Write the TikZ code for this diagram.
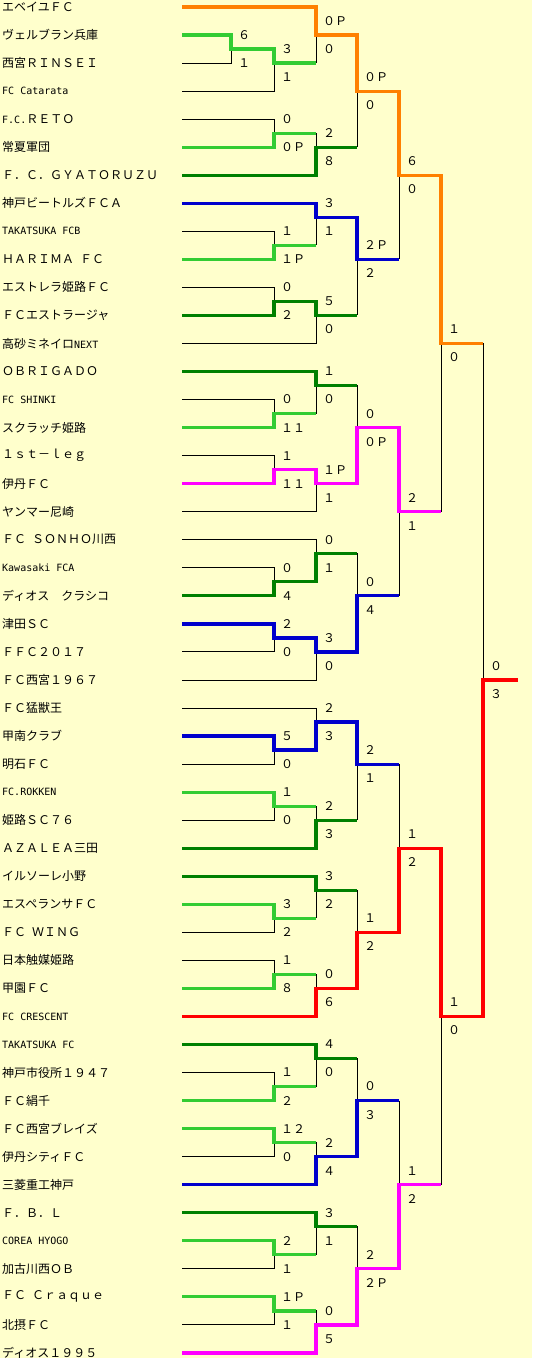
\documentclass[tikz,border=0pt]{standalone}
\usepackage{fontspec}
\setmainfont{Noto Sans CJK JP}
\newfontfamily\hanfont{DejaVu Sans Mono}
\usepackage{xcolor}
\usepackage{tikz}
\definecolor{tbbg}{RGB}{255,255,204}
\definecolor{tborange}{RGB}{255,128,0}
\definecolor{tblime}{RGB}{51,204,51}
\definecolor{tbgreen}{RGB}{0,128,0}
\definecolor{tbblue}{RGB}{0,0,204}
\definecolor{tbmagenta}{RGB}{255,0,255}
\definecolor{tbred}{RGB}{255,0,0}
\newcommand\half[1]{{\hanfont\fontsize{10}{12}\selectfont #1}}
\newcommand\hsp{\hspace{6pt}}
\tikzset{
  team/.style={anchor=west, inner sep=0pt, font=\fontsize{12}{14}\selectfont},
  score/.style={anchor=west, inner sep=0pt, font=\fontsize{12}{14}\selectfont},
  brk/.style={black, line width=0.9pt},
  win/.style={line width=3.2pt},
}
\begin{document}
\begin{tikzpicture}[x=1pt,y=-14.02pt]
  \def\colP{231}\def\colA{274}\def\colB{316}\def\colC{357}\def\colD{399}\def\colE{441}\def\colF{483}
  \fill[tbbg] (0,-0.5) rectangle (532,96.36);
  \useasboundingbox (0,-0.5) rectangle (532,96.36);

  \foreach \name [count=\i] in {エベイユＦＣ, ヴェルブラン兵庫, 西宮ＲＩＮＳＥＩ, {\half{FC Catarata}},
      {\half{F.C.}ＲＥＴＯ}, 常夏軍団, Ｆ．Ｃ．ＧＹＡＴＯＲＵＺＵ, 神戸ビートルズＦＣＡ,
      {\half{TAKATSUKA FCB}}, {ＨＡＲＩＭＡ\hsp ＦＣ}, エストレラ姫路ＦＣ, ＦＣエストラージャ,
      {高砂ミネイロ\half{NEXT}}, ＯＢＲＩＧＡＤＯ, {\half{FC SHINKI}}, スクラッチ姫路,
      １ｓｔ－ｌｅｇ, 伊丹ＦＣ, ヤンマー尼崎, {ＦＣ\hsp ＳＯＮＨＯ川西},
      {\half{Kawasaki FCA}}, ディオス　クラシコ, 津田ＳＣ, ＦＦＣ２０１７,
      ＦＣ西宮１９６７, ＦＣ猛獣王, 甲南クラブ, 明石ＦＣ,
      {\half{FC.ROKKEN}}, 姫路ＳＣ７６, ＡＺＡＬＥＡ三田, イルソーレ小野,
      エスペランサＦＣ, {ＦＣ\hsp ＷＩＮＧ}, 日本触媒姫路, 甲園ＦＣ,
      {\half{FC CRESCENT}}, {\half{TAKATSUKA FC}}, 神戸市役所１９４７, ＦＣ絹千,
      ＦＣ西宮ブレイズ, 伊丹シティＦＣ, 三菱重工神戸, Ｆ．Ｂ．Ｌ,
      {\half{COREA HYOGO}}, 加古川西ＯＢ, {ＦＣ\hsp Ｃｒａｑｕｅ}, 北摂ＦＣ,
      ディオス１９９５}
    \node[team] (t\i) at (2,{2*(\i-1)}) {\name};

  \draw[brk] (182,0) -| (\colB,4);
  \draw[brk] (182,2) -| (\colP,4) -- (182,4);
  \draw[brk] (\colP,3) -| (\colA,6) -- (182,6);
  \draw[brk] (\colA,4) -- (\colB,4);
  \draw[brk] (\colB,2) -| (\colC,10);
  \draw[brk] (182,8) -| (\colA,10) -- (182,10);
  \draw[brk] (\colA,9) -| (\colB,12) -- (182,12);
  \draw[brk] (\colB,10) -- (\colC,10);
  \draw[brk] (\colC,6) -- (\colD,6);
  \foreach \K in {14,26,38,50,62,74,86} {
    \draw[brk] (182,\K) -| (\colB,\K+3);
    \draw[brk] (182,\K+2) -| (\colA,\K+4) -- (182,\K+4);
    \draw[brk] (\colA,\K+3) -- (\colB,\K+3);
    \draw[brk] (\colB,\K+1) -| (\colC,\K+8);
    \draw[brk] (182,\K+6) -| (\colA,\K+8) -- (182,\K+8);
    \draw[brk] (\colA,\K+7) -| (\colB,\K+10) -- (182,\K+10);
    \draw[brk] (\colB,\K+8) -- (\colC,\K+8);
    \draw[brk] (\colC,\K+4) -- (\colD,\K+4);
  }
  \foreach \a/\b in {6/18,30/42,54/66,78/90}
    \draw[brk] (\colD,\a) -- (\colD,\b) (\colD,{(\a+\b)/2}) -- (\colE,{(\a+\b)/2});
  \draw[brk] (\colE,12) -- (\colE,36) (\colE,24) -- (\colF,24);
  \draw[brk] (\colE,60) -- (\colE,84) (\colE,72) -- (\colF,72);
  \draw[brk] (\colF,24) -- (\colF,72) (\colF,48) -- (518,48);

  \draw[win, tblime] (182,2) -| (\colP,3) -| (\colA,4) -- (\colB,4);
  \foreach \r/\e in {10/9,18/17,30/29,56/57,64/65,70/69,78/77,80/81,88/89,92/93}
    \draw[win, tblime] (182,\r) -| (\colA,\e) -- (\colB,\e);
  \foreach \r/\e in {12/10,26/27,60/58,62/63,74/75,86/87}
    \draw[win, tbgreen] (182,\r) -| (\colB,\e) -- (\colC,\e);
  \draw[win, tbgreen] (182,22) -| (\colA,21) -| (\colB,22) -- (\colC,22);
  \draw[win, tbgreen] (182,42) -| (\colA,41) -| (\colB,39) -- (\colC,39);
  \draw[win, tbblue] (182,14) -| (\colB,15) -| (\colC,18) -- (\colD,18);
  \draw[win, tbblue] (182,44) -| (\colA,45) -| (\colB,46) -| (\colC,42) -- (\colD,42);
  \draw[win, tbblue] (182,52) -| (\colA,53) -| (\colB,51) -| (\colC,54) -- (\colD,54);
  \draw[win, tbblue] (182,84) -| (\colB,82) -| (\colC,78) -- (\colD,78);
  \draw[win, tbmagenta] (182,34) -| (\colA,33) -| (\colB,34) -| (\colC,30) -| (\colD,36) -- (\colE,36);
  \draw[win, tbmagenta] (182,96) -| (\colB,94) -| (\colC,90) -| (\colD,84) -- (\colE,84);
  \draw[win, tborange] (182,0) -| (\colB,2) -| (\colC,6) -| (\colD,12) -| (\colE,24) -- (\colF,24);
  \draw[win, tbred] (182,72) -| (\colB,70) -| (\colC,66) -| (\colD,60) -| (\colE,72) -| (\colF,48) -- (518,48);

  \foreach \x/\e/\u/\d [count=\n] in {
      \colP/3/６/１, \colA/4/３/１, \colB/2/０Ｐ/０, \colA/9/０/０Ｐ, \colB/10/２/８, \colC/6/０Ｐ/０,
      \colB/15/３/１, \colA/17/１/１Ｐ, \colA/21/０/２, \colB/22/５/０, \colC/18/２Ｐ/２,
      \colB/27/１/０, \colA/29/０/１１, \colA/33/１/１１, \colB/34/１Ｐ/１, \colC/30/０/０Ｐ,
      \colB/39/０/１, \colA/41/０/４, \colA/45/２/０, \colB/46/３/０, \colC/42/０/４,
      \colB/51/２/３, \colA/53/５/０, \colA/57/１/０, \colB/58/２/３, \colC/54/２/１,
      \colB/63/３/２, \colA/65/３/２, \colA/69/１/８, \colB/70/０/６, \colC/66/１/２,
      \colB/75/４/０, \colA/77/１/２, \colA/81/１２/０, \colB/82/２/４, \colC/78/０/３,
      \colB/87/３/１, \colA/89/２/１, \colA/93/１Ｐ/１, \colB/94/０/５, \colC/90/２/２Ｐ,
      \colD/12/６/０, \colD/36/２/１, \colD/60/１/２, \colD/84/１/２,
      \colE/24/１/０, \colE/72/１/０, \colF/48/０/３} {
    \node[score] (u\n) at (\x+7,\e-1) {\u};
    \node[score] (d\n) at (\x+7,\e+1) {\d};
  }
\end{tikzpicture}
\end{document}
